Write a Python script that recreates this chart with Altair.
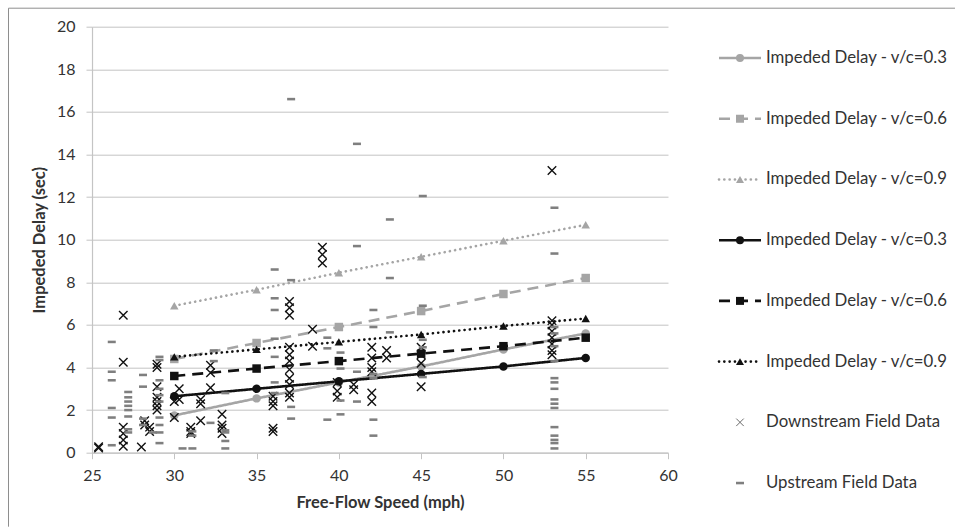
import altair as alt
import pandas as pd

FONT = "Lato"

# Model curves: impeded delay (sec) at each free-flow speed (mph)
speeds = [30, 35, 40, 45, 50, 55]
gray_03 = [1.75, 2.55, 3.3, 4.05, 4.85, 5.6]
gray_06 = [4.4, 5.15, 5.9, 6.65, 7.45, 8.2]
gray_09 = [6.9, 7.65, 8.45, 9.2, 9.95, 10.7]
black_03 = [2.65, 3.0, 3.35, 3.7, 4.05, 4.45]
black_06 = [3.6, 3.95, 4.3, 4.65, 5.0, 5.4]
black_09 = [4.5, 4.85, 5.2, 5.55, 5.95, 6.3]

series_ids = ["g03", "g06", "g09", "b03", "b06", "b09"]
series_values = [gray_03, gray_06, gray_09, black_03, black_06, black_09]
series_labels = [
    "Impeded Delay - v/c=0.3",
    "Impeded Delay - v/c=0.6",
    "Impeded Delay - v/c=0.9",
    "Impeded Delay - v/c=0.3",
    "Impeded Delay - v/c=0.6",
    "Impeded Delay - v/c=0.9",
]

# Field observations: downstream (x marks)
down_speed = [25.4, 25.4,
              26.9, 26.9, 26.9, 26.9, 26.9, 26.9,
              28.0, 28.2, 28.2, 28.5, 28.5,
              28.95, 28.95, 28.95, 28.95, 28.95, 28.95, 28.95,
              30.0, 30.0, 30.3, 30.3,
              31.0, 31.0, 31.0,
              31.6, 31.6, 31.6,
              32.2, 32.2, 32.2,
              32.9, 32.9, 32.9, 32.9,
              36.0, 36.0, 36.0, 36.0, 36.0,
              37.0, 37.0, 37.0, 37.0, 37.0, 37.0, 37.0, 37.0, 37.0, 37.0, 37.0,
              38.4, 38.4,
              39.0, 39.0, 39.0,
              39.9, 39.9, 39.9,
              40.9, 40.9,
              42.0, 42.0, 42.0, 42.0, 42.0, 42.0,
              42.9, 42.9,
              45.0, 45.0, 45.0, 45.0,
              52.95, 52.95, 52.95, 52.95, 52.95, 52.95, 52.95, 52.95]
down_delay = [0.22, 0.28,
              6.45, 4.25, 1.2, 0.9, 0.6, 0.3,
              0.27, 1.5, 1.3, 1.2, 1.0,
              4.15, 4.0, 3.1, 2.6, 2.4, 2.2, 2.0,
              2.4, 1.65, 3.0, 2.5,
              1.2, 1.0, 0.9,
              2.5, 2.3, 1.5,
              4.1, 3.75, 3.05,
              1.8, 1.3, 1.15, 0.9,
              2.65, 2.4, 2.2, 1.15, 1.0,
              7.1, 6.8, 6.45, 4.95, 4.6, 4.3, 3.9, 3.5, 3.2, 2.8, 2.6,
              5.8, 5.0,
              9.65, 9.3, 8.9,
              3.3, 2.9, 2.6,
              3.2, 2.95,
              4.95, 4.45, 4.0, 3.8, 2.8, 2.4,
              4.8, 4.45,
              4.95, 4.6, 4.2, 3.1,
              13.25, 6.2, 6.0, 5.7, 5.4, 5.1, 4.8, 4.6]

# Field observations: upstream (short dashes)
up_speed = [26.2, 26.2, 26.2, 26.2, 26.2, 26.2,
            27.2, 27.2, 27.2, 27.2, 27.2, 27.2, 27.2, 27.2,
            28.1, 28.1, 28.1, 28.1, 28.7,
            29.1, 29.1, 29.1, 29.1, 29.1, 29.1, 29.1, 29.1, 29.1, 29.1,
            30.5, 31.1, 31.1, 31.1, 32.2, 32.4, 32.4,
            33.1, 33.1, 33.1, 33.1, 33.1,
            36.1, 36.1, 36.1, 36.1, 36.1, 36.1, 36.1,
            37.1, 37.1, 37.1, 37.1,
            39.3, 39.3, 39.3,
            40.1, 40.1, 40.1, 40.1,
            41.1, 41.1, 41.1, 41.1,
            42.1, 42.1, 42.1, 42.1, 42.1, 42.1,
            43.1, 43.1, 43.1,
            45.1, 45.1, 45.1, 45.1, 45.1,
            53.1, 53.1, 53.1, 53.1, 53.1, 53.1, 53.1, 53.1, 53.1, 53.1,
            53.1, 53.1, 53.1, 53.1, 53.1, 53.1, 53.1]
up_delay = [5.2, 3.8, 3.4, 2.1, 1.65, 0.35,
            2.85, 2.6, 2.4, 2.2, 2.0, 1.7, 1.1, 0.95,
            3.65, 3.1, 1.6, 1.3, 0.95,
            4.5, 4.35, 3.4, 3.0, 2.7, 2.4, 1.65, 1.3, 0.95, 0.45,
            0.2, 1.0, 0.8, 0.2, 1.4, 4.8, 4.3,
            2.8, 1.05, 0.95, 0.55, 0.2,
            8.6, 7.25, 6.7, 5.35, 4.5, 3.3, 2.8,
            16.6, 8.1, 2.15, 1.6,
            5.4, 4.9, 1.55,
            4.7, 3.95, 2.45, 1.8,
            14.5, 9.7, 3.8, 2.4,
            6.7, 5.9, 3.7, 3.5, 1.55, 0.8,
            10.95, 8.2, 5.65,
            12.05, 6.9, 5.3, 4.95, 3.55,
            11.5, 9.35, 5.9, 5.6, 5.0, 4.3, 3.5, 3.3, 3.0,
            2.5, 2.3, 2.1, 1.2, 0.8, 0.6, 0.45, 0.2]

LIGHT = "#A5A5A5"
DARK = "#111111"
UP_GRAY = "#7F7F7F"
TEXT = "#333333"
GRID = "#C4C4C4"

series_colors = [LIGHT, LIGHT, LIGHT, DARK, DARK, DARK]
series_dashes = [[1, 0], [11, 7], [0.1, 5.2], [1, 0], [11, 7], [0.1, 5.2]]
series_shapes = ["circle", "square", "triangle-up", "circle", "square", "triangle-up"]
series_caps = ["butt", "butt", "round", "butt", "butt", "round"]

X_SHAPE = "M-1,-1L1,1M-1,1L1,-1"
DASH_SHAPE = "M-1,-0.32L1,-0.32L1,0.32L-1,0.32Z"

curves = pd.DataFrame(
    [
        {"series": sid, "speed": s, "delay": v}
        for sid, vals in zip(series_ids, series_values)
        for s, v in zip(speeds, vals)
    ]
)
down_df = pd.DataFrame({"speed": down_speed, "delay": down_delay})
up_df = pd.DataFrame({"speed": up_speed, "delay": up_delay})

color_scale = alt.Scale(domain=series_ids, range=series_colors)
dash_scale = alt.Scale(domain=series_ids, range=series_dashes)
shape_scale = alt.Scale(domain=series_ids, range=series_shapes)

x_enc = alt.X(
    "speed:Q",
    scale=alt.Scale(domain=[25, 60], nice=False, zero=False),
    axis=alt.Axis(
        values=[25, 30, 35, 40, 45, 50, 55, 60],
        title="Free-Flow Speed (mph)",
        grid=False,
        tickSize=6,
        labelPadding=9,
        labelFlush=False,
        titlePadding=11,
    ),
)
y_enc = alt.Y(
    "delay:Q",
    scale=alt.Scale(domain=[0, 20], nice=False),
    axis=alt.Axis(
        values=list(range(0, 21, 2)),
        title="Impeded Delay (sec)",
        grid=True,
        tickSize=6,
        labelPadding=11,
        labelFlush=False,
        titlePadding=9,
    ),
)

solid_lines = []
for sid, cap in zip(series_ids, series_caps):
    solid_lines.append(
        alt.Chart(curves[curves["series"] == sid])
        .mark_line(strokeWidth=2.6, strokeCap=cap)
        .encode(
            x=x_enc,
            y=y_enc,
            color=alt.Color("series:N", scale=color_scale, legend=None),
            strokeDash=alt.StrokeDash("series:N", scale=dash_scale, legend=None),
        )
    )

curve_points = (
    alt.Chart(curves)
    .mark_point(filled=True, opacity=1)
    .encode(
        x="speed:Q",
        y="delay:Q",
        color=alt.Color("series:N", scale=color_scale, legend=None),
        shape=alt.Shape("series:N", scale=shape_scale, legend=None),
        size=alt.value(72),
    )
)

down_points = (
    alt.Chart(down_df)
    .mark_point(shape=X_SHAPE, filled=False, stroke=DARK, strokeWidth=1.4, size=72, opacity=1)
    .encode(x="speed:Q", y="delay:Q")
)

up_points = (
    alt.Chart(up_df)
    .mark_point(shape=DASH_SHAPE, filled=True, fill=UP_GRAY, size=64, opacity=1)
    .encode(x="speed:Q", y="delay:Q")
)

# Outer frame of the figure (top and left edges)
frame_src = pd.DataFrame({"k": [0]})
frame_top = (
    alt.Chart(frame_src)
    .mark_rule(color="#8E8E8E", strokeWidth=1)
    .encode(x=alt.value(-83.5), x2=alt.value(863), y=alt.value(-18.5))
)
frame_left = (
    alt.Chart(frame_src)
    .mark_rule(color="#8E8E8E", strokeWidth=1)
    .encode(x=alt.value(-83.5), y=alt.value(-18.5), y2=alt.value(500))
)

main = alt.layer(
    frame_top, frame_left, *solid_lines, curve_points, down_points, up_points
).properties(width=576, height=426)

# Legend panel: one row per entry, sample line with its marker and a label
legend_rows = list(range(8))
legend_labels = series_labels + ["Downstream Field Data", "Upstream Field Data"]

leg_lines = pd.DataFrame(
    [
        {"row": r, "series": sid, "lx": lx}
        for r, sid in zip(legend_rows[:6], series_ids)
        for lx in (0.0, 1.0)
    ]
)
leg_marks = pd.DataFrame({"row": legend_rows[:6], "series": series_ids, "lx": [0.5] * 6})
leg_x = pd.DataFrame({"row": [legend_rows[6]], "lx": [0.5]})
leg_up = pd.DataFrame({"row": [legend_rows[7]], "lx": [0.5]})
leg_text = pd.DataFrame({"row": legend_rows, "label": legend_labels, "lx": [1.0] * 8})

lx_enc = alt.X("lx:Q", scale=alt.Scale(domain=[0, 1], nice=False, zero=False), axis=None)
ly_enc = alt.Y(
    "row:Q", scale=alt.Scale(domain=[-0.516, 6.5], nice=False, zero=False, reverse=True), axis=None
)

leg_line_layers = []
for sid, cap in zip(series_ids, series_caps):
    leg_line_layers.append(
        alt.Chart(leg_lines[leg_lines["series"] == sid])
        .mark_line(strokeWidth=2.6, strokeCap=cap, clip=False)
        .encode(
            x=lx_enc,
            y=ly_enc,
            color=alt.Color("series:N", scale=color_scale, legend=None),
            strokeDash=alt.StrokeDash("series:N", scale=dash_scale, legend=None),
        )
    )

leg_symbols = (
    alt.Chart(leg_marks)
    .mark_point(filled=True, opacity=1, clip=False)
    .encode(
        x="lx:Q",
        y="row:Q",
        color=alt.Color("series:N", scale=color_scale, legend=None),
        shape=alt.Shape("series:N", scale=shape_scale, legend=None),
        size=alt.value(64),
    )
)
leg_x_symbol = (
    alt.Chart(leg_x)
    .mark_point(shape=X_SHAPE, filled=False, stroke="#6A6A6A", strokeWidth=1, size=56, opacity=1, clip=False)
    .encode(x="lx:Q", y="row:Q")
)
leg_up_symbol = (
    alt.Chart(leg_up)
    .mark_point(shape=DASH_SHAPE, filled=True, fill=UP_GRAY, size=64, opacity=1, clip=False)
    .encode(x="lx:Q", y="row:Q")
)
leg_labels = (
    alt.Chart(leg_text)
    .mark_text(align="left", baseline="middle", dx=5, font=FONT, fontSize=16.8, color=TEXT, clip=False)
    .encode(x="lx:Q", y="row:Q", text="label:N")
)

legend = alt.layer(
    *leg_line_layers, leg_symbols, leg_x_symbol, leg_up_symbol, leg_labels
).properties(width=42, height=426)

chart = (
    alt.hconcat(main, legend, spacing=51, bounds="flush")
    .resolve_scale(color="independent", strokeDash="independent", shape="independent")
    .properties(
        padding={"left": 8, "top": 7.7, "right": 0, "bottom": 0},
        background="white",
    )
    .configure_view(stroke=None)
    .configure_axis(
        domainColor=GRID,
        tickColor=GRID,
        gridColor=GRID,
        gridWidth=1,
        domainWidth=1.2,
        labelFont=FONT,
        labelFontSize=16,
        labelColor=TEXT,
        titleFont=FONT,
        titleFontSize=16.5,
        titleFontWeight="bold",
        titleColor=TEXT,
    )
)

chart.save("out.html", embed_options={"renderer": "svg", "actions": False})
